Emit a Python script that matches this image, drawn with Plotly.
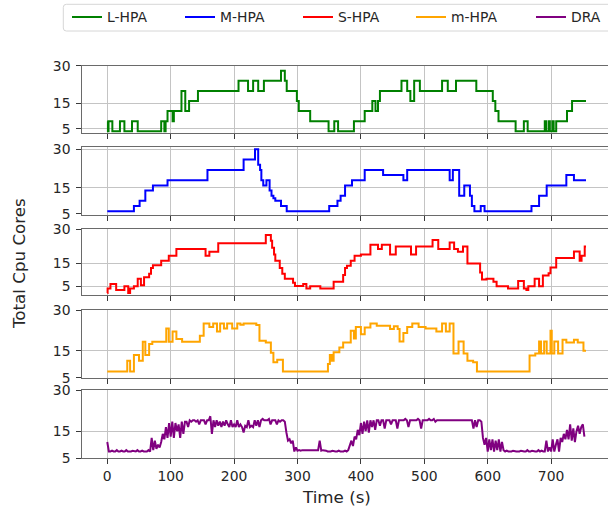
import plotly.graph_objects as go
from plotly.subplots import make_subplots
import numpy as np

W, H = 608, 510

# ---------------- data ----------------
L_HPA_t = [0, 1, 2, 8, 20, 27, 39, 48, 85, 90, 92, 95, 103, 105, 117, 123, 129, 143,
           207, 222, 230, 238, 247, 274, 280, 283, 299, 302, 320, 349, 358, 364, 389,
           406, 418, 423, 427, 430, 464, 473, 478, 484, 493, 528, 537, 550, 582, 608,
           612, 617, 644, 657, 663, 690, 692, 696, 698, 702, 704, 708, 725, 733, 755]
L_HPA_v = [8, 4, 8, 4, 8, 4, 8, 4, 8, 4, 8, 12, 8, 12, 20, 12, 16, 20,
           24, 20, 24, 20, 24, 28, 24, 20, 16, 12, 8, 4, 8, 4, 8,
           12, 16, 12, 16, 20, 24, 20, 16, 24, 20, 24, 20, 24, 20, 16,
           12, 8, 4, 8, 4, 8, 4, 8, 4, 8, 4, 8, 12, 16, 16]

M_HPA_t = [0, 42, 51, 60, 72, 95, 158, 215, 233, 238, 241, 243, 246, 251, 256, 259,
           262, 265, 274, 283, 350, 363, 368, 375, 386, 406, 435, 467, 473, 540, 545,
           555, 563, 572, 575, 579, 589, 595, 669, 681, 693, 724, 736, 755]
M_HPA_v = [6, 8, 10, 14, 16, 18, 22, 26, 30, 24, 22, 18, 16, 18, 14, 12,
           11, 10, 8, 6, 8, 10, 12, 16, 18, 22, 20, 18, 22, 18, 22,
           12, 16, 12, 8, 6, 8, 6, 8, 12, 16, 20, 18, 18]

S_HPA_t = [0, 0.5, 5, 14, 27, 33, 36, 42, 48, 53, 58, 66, 69, 72, 85, 97, 109, 155,
           161, 175, 250, 258, 260, 263, 265, 272, 276, 280, 293, 296, 309, 314, 320,
           336, 357, 372, 375, 378, 384, 390, 400, 415, 427, 433, 446, 455, 479, 487,
           513, 522, 540, 547, 553, 561, 568, 588, 591, 598, 609, 614, 632, 648, 657,
           661, 664, 674, 681, 687, 696, 699, 708, 736, 745, 748, 753, 755]
S_HPA_v = [2, 4, 6, 3.3, 5, 2, 4, 5, 8.3, 5.4, 9, 10.5, 13, 14.2, 16.2, 18.4, 21.4, 18.4,
           20.2, 24, 27.6, 25, 22, 19, 16.2, 13, 10.5, 8.3, 6.5, 5.1, 6, 4, 5,
           4, 7, 10, 13, 14, 16.2, 18.4, 19, 23.3, 21.4, 23.3, 19, 22.5, 19, 22.5,
           25.4, 21.4, 24.3, 21.4, 20.2, 22.5, 15, 11, 8, 8.3, 7, 5, 4, 7.3, 4,
           3.3, 5, 8.3, 5, 9.7, 10.7, 13.3, 17.4, 20.3, 16.2, 18.4, 22.5, 22.5]

m_HPA_t = [0, 31.5, 36, 42, 50, 56, 60, 66, 71, 93, 97, 103, 109, 118, 146, 152, 161,
           167, 173, 178, 184, 189, 197, 205, 210, 215, 235, 240, 250, 258, 262, 268,
           277, 348, 351, 354, 357, 366, 372, 384, 389, 392, 400, 406, 415, 425, 446,
           452, 458, 461, 467, 473, 481, 491, 502, 519, 528, 534, 540, 546, 554, 562,
           568, 577, 583, 666, 675, 681, 684, 689, 693, 699, 701, 705, 711, 718, 724,
           736, 742, 751, 755]
m_HPA_v = [7.3, 11.3, 7.3, 13.4, 11.3, 18.3, 13.4, 17.5, 18.3, 23.2, 18.3, 22.1, 19.3, 18.3, 20.5, 25.1, 23.8,
           25.1, 22.1, 25.1, 23.2, 25.1, 23.2, 25.1, 24.6, 25.1, 24.5, 18.7, 18, 14.2, 10.7, 11.6,
           7.3, 10.1, 13.4, 11.3, 14.4, 16.2, 18, 22.4, 19.5, 23.8, 21.1, 23.6, 25.1, 24.2, 23,
           24, 23, 18.4, 21.5, 23.8, 25.1, 23.8, 23.2, 22.1, 25.1, 22.1, 25.1, 14, 18.4, 14,
           11.3, 10.7, 7.3, 13.2, 14, 18.4, 14, 18.4, 14, 22.4, 14, 18.4, 14, 19, 18,
           19, 18, 15, 15]

DRA_t = list(np.arange(0, 755, 2.5))
DRA_v = [
    11, 7.5, 7.5, 7.8, 7.5, 7.5, 8, 7.5, 7.5, 7.8, 7.5, 7.5, 8, 7.5, 7.5, 7.5, 7.8, 7.5, 7.5, 8,
    7.5, 7.5, 7.8, 7.5, 7.5, 7.5, 8, 7.5, 12.5, 8, 11.5, 8.5, 10, 9, 11, 14, 12, 16.5, 12.5, 18,
    13, 18.5, 12.5, 18, 15, 17.5, 12.5, 18.5, 14, 18.5, 18.5, 16.5, 19, 18.5, 19, 19, 18.5, 19, 17.5, 19,
    19, 19, 17.5, 19, 19, 20.5, 14, 19, 16.5, 19, 17, 18.5, 16.5, 18.5, 17, 19, 17.5, 16.5, 19, 16.5,
    17.5, 16.5, 19, 16.5, 17.5, 16.5, 14.5, 17, 16.5, 19, 16.5, 17, 16.5, 19, 17, 19, 16.5, 19, 19.5, 19,
    19, 19, 19.5, 17.5, 19, 19, 19, 17.5, 19, 18.5, 19, 19, 18.5, 14.5, 11.5, 12, 10.5, 11.5, 7.5, 9,
    7.8, 8, 7.8, 8, 8, 7.8, 8, 8, 7.8, 8, 8, 7.8, 8, 8, 11.5, 7.8, 8, 8, 7.8, 7.5,
    7.5, 7.5, 7.8, 7.5, 7.5, 7.5, 7.8, 7.5, 7.5, 7.5, 7.8, 7.5, 8, 10, 11.5, 9.5, 13, 12, 15.5, 13.5,
    18, 14, 18.5, 15, 19, 14.5, 19, 16.5, 19, 15.5, 19, 19, 17, 19, 19, 16, 19, 19, 19, 17.5,
    19, 19, 19, 16, 19, 19, 19, 19, 19.5, 19, 16.5, 19, 19, 19, 19, 19, 19.5, 19, 16, 19,
    19, 19, 19, 19.5, 19, 19, 19.5, 18.5, 19, 19, 19, 19, 19, 19, 19, 19, 19, 19, 19, 19,
    19, 19, 19, 19, 19, 19, 19, 19, 19, 19, 19, 16, 19, 16.5, 19, 19, 18.5, 12.5, 10, 12.5,
    7.5, 12, 8, 12, 7.5, 11.5, 8, 12, 7.5, 11, 8, 7.5, 7.8, 7.5, 7.5, 7.5, 7.8, 7.5, 7.5, 7.5,
    7.5, 7.8, 7.5, 7.5, 7.5, 8, 7.5, 7.5, 7.8, 7.5, 7.5, 7.5, 8, 7.5, 7.8, 7.5, 7.5, 11.5, 7.5, 9,
    7.5, 12, 7.5, 10, 12, 7.5, 12.5, 11, 14, 12, 15.5, 12, 17.5, 11.5, 16, 11, 15, 17, 14, 16.5,
    17.5, 13,
]

names = ["L-HPA", "M-HPA", "S-HPA", "m-HPA", "DRA"]
colors = ["green", "blue", "red", "orange", "purple"]
times = [L_HPA_t, M_HPA_t, S_HPA_t, m_HPA_t, DRA_t]
values = [L_HPA_v, M_HPA_v, S_HPA_v, m_HPA_v, DRA_v]
shapes_ = ["hv", "hv", "hv", "hv", "linear"]

x_ticks = [0, 100, 200, 300, 400, 500, 600, 700]
y_ticks = [5, 15, 30]

# ---------------- layout geometry (pixels) ----------------
panel_px = [(65.7, 133.0), (147.0, 214.5), (229.3, 295.3), (310.0, 377.7), (390.3, 458.3)]
y_ranges = [[3.3, 30.0], [4.7, 30.9], [1.0, 30.1], [5.0, 30.05], [5.0, 30.05]]
legend_text_x = [109, 222, 340, 453, 573]

FONT = "DejaVu Sans"
TXT = "#262626"
GRID = "#c4c4c4"
SPINE = "#6a6a6a"
TICK = "#3a3a3a"

fig = make_subplots(rows=5, cols=1, shared_xaxes=True, vertical_spacing=0.02)

for i in range(5):
    lg = "legend" if i == 0 else f"legend{i+1}"
    fig.add_trace(go.Scatter(x=times[i], y=values[i], mode="lines", name=names[i],
                             line=dict(color=colors[i], width=2, shape=shapes_[i]),
                             legend=lg, showlegend=True), row=i + 1, col=1)

for i in range(5):
    xn = "xaxis" if i == 0 else f"xaxis{i+1}"
    yn = "yaxis" if i == 0 else f"yaxis{i+1}"
    top, bot = panel_px[i]
    fig.layout[xn].update(domain=[82.3 / W, 1.0], range=[-39.4, 789.7],
                          tickmode="array", tickvals=x_ticks,
                          showticklabels=(i == 4), ticks="outside", ticklen=5,
                          tickcolor=TICK, showgrid=True, gridcolor=GRID, gridwidth=1,
                          showline=True, mirror=True, linecolor=SPINE, linewidth=1,
                          zeroline=False, ticklabelstandoff=0, automargin=False,
                          tickfont=dict(family=FONT, size=13.9, color=TXT))
    fig.layout[yn].update(domain=[1 - bot / H, 1 - top / H], range=y_ranges[i],
                          tickmode="array", tickvals=y_ticks, ticks="outside", ticklen=5,
                          tickcolor=TICK, showgrid=True, gridcolor=GRID, gridwidth=1,
                          showline=True, mirror=False, linecolor=SPINE, linewidth=1,
                          zeroline=False, ticklabelstandoff=3, automargin=False,
                          tickfont=dict(family=FONT, size=13.9, color=TXT))

# legends (one per item so each sits where the reference puts it)
for i in range(5):
    lg = "legend" if i == 0 else f"legend{i+1}"
    fig.layout[lg] = dict(x=(legend_text_x[i] - 42) / W, y=1 - 17.5 / H,
                          xanchor="left", yanchor="middle", orientation="h",
                          bgcolor="rgba(0,0,0,0)", borderwidth=0,
                          font=dict(family=FONT, size=13.9, color=TXT))

# legend frame (rounded left corners)
x0, x1, y0, y1, r = 63.3 / W, 640 / W, 1 - 4.3 / H, 1 - 31 / H, 3
rx, ry = r / W, r / H
path = (f"M {x0+rx},{y0} L {x1},{y0} L {x1},{y1} L {x0+rx},{y1} "
        f"Q {x0},{y1} {x0},{y1+ry} L {x0},{y0-ry} Q {x0},{y0} {x0+rx},{y0} Z")
fig.add_shape(type="path", path=path, xref="paper", yref="paper",
              line=dict(color="#d6d6d6", width=1), fillcolor="rgba(255,255,255,0.8)")

fig.add_annotation(text="Total Cpu Cores", x=19 / W, y=1 - 264 / H, xref="paper", yref="paper",
                   textangle=-90, showarrow=False, xanchor="center", yanchor="middle",
                   font=dict(family=FONT, size=16.7, color=TXT))
fig.add_annotation(text="Time (s)", x=336.6 / W, y=1 - 497 / H, xref="paper", yref="paper",
                   showarrow=False, xanchor="center", yanchor="middle",
                   font=dict(family=FONT, size=16.7, color=TXT))

fig.update_layout(width=W, height=H,
                  margin=dict(l=0, r=0, t=0, b=0, pad=0, autoexpand=False),
                  paper_bgcolor="white", plot_bgcolor="white")

fig.write_html("out.html")
